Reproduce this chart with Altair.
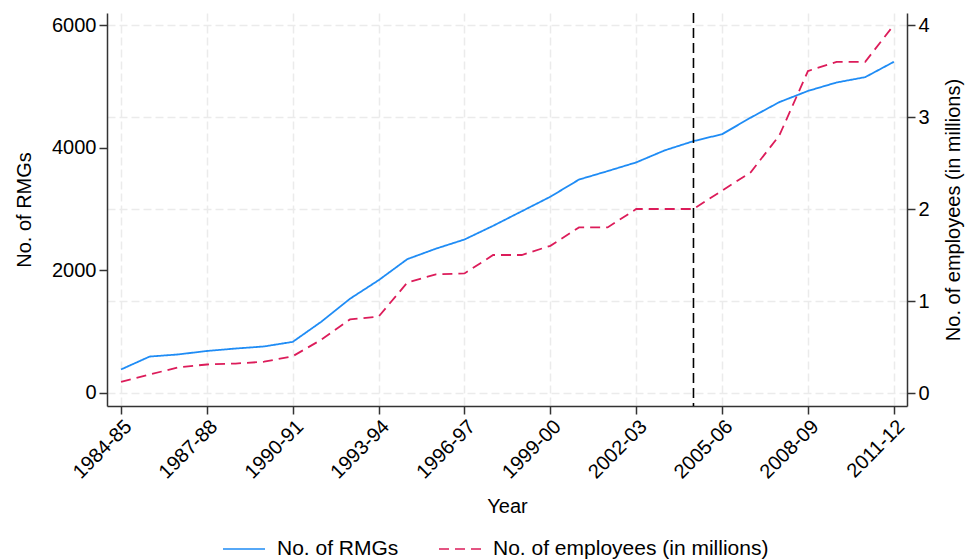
import altair as alt
import pandas as pd

# Fiscal years, identified by their starting calendar year (1984 -> "1984-85")
start_years = list(range(1984, 2012))

# Number of ready-made garment (RMG) factories
rmg_count = [384, 594, 629, 685, 725, 759, 834, 1163, 1537, 1839,
             2182, 2353, 2503, 2726, 2963, 3200, 3480, 3618, 3760, 3957,
             4107, 4220, 4490, 4743, 4925, 5063, 5150, 5400]

# Employment in the sector, millions of workers
employees_m = [0.12, 0.20, 0.28, 0.31, 0.32, 0.34, 0.40, 0.58, 0.80, 0.83,
               1.20, 1.29, 1.30, 1.50, 1.50, 1.60, 1.80, 1.80, 2.00, 2.00,
               2.00, 2.20, 2.40, 2.80, 3.50, 3.60, 3.60, 4.00]

series_names = ["No. of RMGs", "No. of employees (in millions)"]
series_colors = ["#1f8cf5", "#dc1c5a"]
series_dashes = [[1, 0], [10, 6]]

x_ticks = list(range(1984, 2012, 3))
marker_year = 2004

FONT = "Liberation Sans"
FS = 20

rmg_df = pd.DataFrame({"year": start_years, "value": rmg_count,
                       "series": series_names[0]})
emp_df = pd.DataFrame({"year": start_years, "value": employees_m,
                       "series": series_names[1]})

x_enc = alt.X(
    "year:Q",
    scale=alt.Scale(domain=[1983.51, 2011.46], nice=False, zero=False),
    axis=alt.Axis(
        values=x_ticks,
        labelExpr="datum.value + '-' + slice(toString(datum.value + 1), 2)",
        labelAngle=315,
        labelAlign="right",
        labelBaseline="top",
        labelPadding=2,
        title="Year",
        titlePadding=14,
        grid=True,
        gridDash=[8, 4],
        gridColor="#ebebeb",
        gridWidth=1.5,
    ),
)

color_enc = alt.Color(
    "series:N",
    scale=alt.Scale(domain=series_names, range=series_colors),
    legend=alt.Legend(
        title=None,
        orient="none",
        direction="horizontal",
        legendX=115,
        legendY=514,
        symbolType="stroke",
        symbolSize=1764,
        symbolStrokeWidth=1.6,
        labelFontSize=21,
        labelFont=FONT,
        labelColor="black",
        labelOffset=11,
        columnPadding=36,
        padding=0,
        labelLimit=400,
    ),
)
dash_enc = alt.StrokeDash(
    "series:N",
    scale=alt.Scale(domain=series_names, range=series_dashes),
    legend=alt.Legend(title=None),
)

rmg_line = alt.Chart(rmg_df).mark_line(strokeWidth=1.8).encode(
    x=x_enc,
    y=alt.Y(
        "value:Q",
        scale=alt.Scale(domain=[-212, 6196], nice=False, zero=False),
        axis=alt.Axis(
            values=[0, 2000, 4000, 6000],
            format="d",
            title="No. of RMGs",
            titlePadding=17,
            grid=False,
            labelPadding=3,
        ),
    ),
    color=color_enc,
    strokeDash=dash_enc,
)

emp_line = alt.Chart(emp_df).mark_line(strokeWidth=1.8).encode(
    x=x_enc,
    y=alt.Y(
        "value:Q",
        scale=alt.Scale(domain=[-0.1413, 4.1307], nice=False, zero=False),
        axis=alt.Axis(
            orient="right",
            values=[0, 1, 2, 3, 4],
            title="No. of employees (in millions)",
            titleAngle=270,
            titlePadding=34,
            grid=True,
            gridDash=[8, 4],
            gridColor="#ebebeb",
            gridWidth=1.5,
            labelPadding=3,
        ),
    ),
    color=color_enc,
    strokeDash=dash_enc,
)

marker = alt.Chart(pd.DataFrame({"year": [marker_year]})).mark_rule(
    color="black", strokeWidth=1.6, strokeDash=[10, 5]
).encode(x=alt.X("year:Q"))

chart = (
    alt.layer(rmg_line, marker, emp_line)
    .resolve_scale(y="independent")
    .properties(
        width=800,
        height=393,
        autosize=alt.AutoSizeParams(type="none"),
        padding={"left": 107, "top": 13, "right": 62, "bottom": 154},
    )
    .configure(font=FONT)
    .configure_view(stroke=None)
    .configure_axis(
        labelFont=FONT,
        titleFont=FONT,
        labelFontSize=FS,
        titleFontSize=FS,
        labelColor="black",
        titleColor="black",
        titleFontWeight="normal",
        domainColor="#333333",
        domainWidth=1.5,
        tickColor="#333333",
        tickWidth=1.5,
        tickSize=8,
    )
)

chart.save("out.html", embed_options={"renderer": "svg", "actions": False})
